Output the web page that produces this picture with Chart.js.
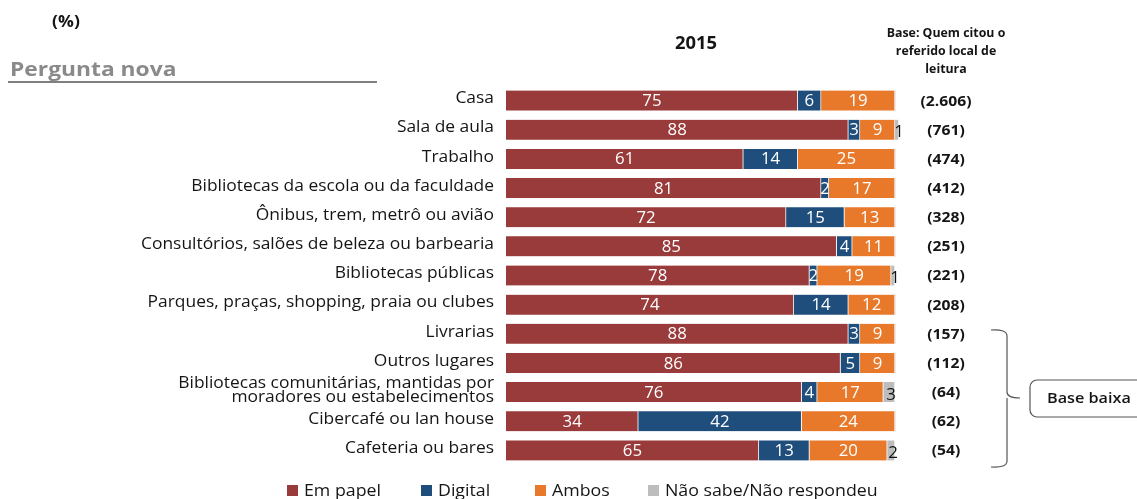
<!DOCTYPE html>
<html>
<head>
<meta charset="utf-8">
<script src="https://cdn.jsdelivr.net/npm/chart.js@4"></script>
<style>
  html, body { margin: 0; background: #fff; }
</style>
</head>
<body>
<canvas id="chart" width="1137" height="499"></canvas>
<script>
const locais = [
  "Casa",
  "Sala de aula",
  "Trabalho",
  "Bibliotecas da escola ou da faculdade",
  "Ônibus, trem, metrô ou avião",
  "Consultórios, salões de beleza ou barbearia",
  "Bibliotecas públicas",
  "Parques, praças, shopping, praia ou clubes",
  "Livrarias",
  "Outros lugares",
  "Bibliotecas comunitárias, mantidas por\nmoradores ou estabelecimentos",
  "Cibercafé ou lan house",
  "Cafeteria ou bares",
];
const emPapel = [75, 88, 61, 81, 72, 85, 78, 74, 88, 86, 76, 34, 65];
const digital = [6, 3, 14, 2, 15, 4, 2, 14, 3, 5, 4, 42, 13];
const ambos = [19, 9, 25, 17, 13, 11, 19, 12, 9, 9, 17, 24, 20];
const naoSabe = [0, 1, 0, 0, 0, 0, 1, 0, 0, 0, 3, 0, 2];
const bases = ["(2.606)", "(761)", "(474)", "(412)", "(328)", "(251)", "(221)",
  "(208)", "(157)", "(112)", "(64)", "(62)", "(54)"];
const seriesLabels = ["Em papel", "Digital", "Ambos", "Não sabe/Não respondeu"];
const seriesColors = ["#9a3b3b", "#1f4e7d", "#e8792b", "#bdbdbd"];

const FONT = "'Open Sans', 'Noto Sans', sans-serif";

// the source picture is a bit stretched sideways, so text gets a scaleX
function txt(ctx, s, x, y, font, align, sx) {
  ctx.save();
  ctx.font = font;
  ctx.textAlign = align;
  ctx.translate(x, y);
  ctx.scale(sx, 1);
  ctx.fillText(s, 0, 0);
  ctx.restore();
}

const extras = {
  id: "extras",
  afterDatasetsDraw(chart) {
    const ctx = chart.ctx;
    const yScale = chart.scales.y;
    ctx.save();
    ctx.textBaseline = "middle";

    // segment values
    chart.data.datasets.forEach((ds, di) => {
      const meta = chart.getDatasetMeta(di);
      meta.data.forEach((bar, i) => {
        const v = ds.data[i];
        if (!v) return;
        const cx = (bar.x + bar.base) / 2;
        if (di === 3) {
          ctx.fillStyle = "#111";
          txt(ctx, v, cx + 2, bar.y + 3, "16px " + FONT, "center", 1.05);
        } else {
          ctx.fillStyle = "#fff";
          txt(ctx, v, cx, bar.y + 1, "16px " + FONT, "center", 1.05);
        }
      });
    });

    // category labels
    ctx.fillStyle = "#151515";
    const catFont = "500 16.5px " + FONT;
    ctx.font = catFont;
    const catScale = 353 / ctx.measureText(locais[5]).width;
    locais.forEach((s, i) => {
      const y = yScale.getPixelForValue(i);
      const lines = s.split("\n");
      lines.forEach((ln, k) => {
        txt(ctx, ln, 494, y - 2 + (k - (lines.length - 1) / 2) * 14, catFont, "right", catScale);
      });
    });

    // bases column
    bases.forEach((b, i) => {
      txt(ctx, b, 946, yScale.getPixelForValue(i) + 1, "bold 14px " + FONT, "center", 1.12);
    });
    ["Base: Quem citou o", "referido local de", "leitura"].forEach((ln, k) => {
      txt(ctx, ln, 946, 33 + k * 18, "bold 13px " + FONT, "center", 0.95);
    });

    // titles
    txt(ctx, "2015", 696, 44, "bold 17px " + FONT, "center", 1.08);
    txt(ctx, "(%)", 66, 22, "bold 16px " + FONT, "center", 1.1);

    ctx.fillStyle = "#8a8a8a";
    txt(ctx, "Pergunta nova", 10, 71, "bold 19px " + FONT, "left", 1.2);
    ctx.strokeStyle = "#555";
    ctx.lineWidth = 1.5;
    ctx.beginPath();
    ctx.moveTo(8, 82);
    ctx.lineTo(377, 82);
    ctx.stroke();

    // bracket for low bases
    ctx.lineWidth = 1.2;
    ctx.beginPath();
    ctx.moveTo(991, 330);
    ctx.quadraticCurveTo(1007, 329, 1007, 336);
    ctx.lineTo(1007, 392);
    ctx.quadraticCurveTo(1007, 398, 1020, 398);
    ctx.moveTo(1007, 398);
    ctx.lineTo(1007, 461);
    ctx.quadraticCurveTo(1007, 468, 991, 467);
    ctx.stroke();

    ctx.beginPath();
    ctx.roundRect(1030, 380, 130, 37, 7);
    ctx.stroke();
    ctx.fillStyle = "#151515";
    txt(ctx, "Base baixa", 1047, 399, "600 15px " + FONT, "left", 1.08);

    // legend
    const legX = [287, 421, 535, 648];
    seriesLabels.forEach((lab, k) => {
      ctx.fillStyle = seriesColors[k];
      ctx.fillRect(legX[k], 485, 11, 11);
      ctx.fillStyle = "#151515";
      txt(ctx, lab, legX[k] + 17, 491, "16px " + FONT, "left", 1.11);
    });

    ctx.restore();
  },
};

const datasets = [emPapel, digital, ambos, naoSabe].map((d, k) => ({
  label: seriesLabels[k],
  data: d,
  backgroundColor: seriesColors[k],
  borderColor: "rgba(255,255,255,0.6)",
  borderWidth: { left: 0, right: 1, top: 0, bottom: 0 },
  borderSkipped: false,
  barThickness: 20,
  clip: false,
}));

new Chart(document.getElementById("chart"), {
  type: "bar",
  data: { labels: locais, datasets: datasets },
  options: {
    indexAxis: "y",
    responsive: false,
    animation: false,
    layout: { padding: { left: 506, right: 242, top: 86, bottom: 34 } },
    scales: {
      x: { stacked: true, min: 0, max: 100, display: false },
      y: { stacked: true, display: false },
    },
    plugins: {
      legend: { display: false },
      tooltip: { enabled: false },
    },
  },
  plugins: [extras],
});
</script>
</body>
</html>
